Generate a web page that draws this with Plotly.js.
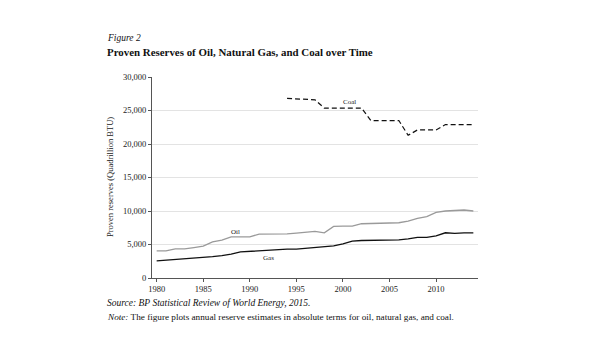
<!DOCTYPE html>
<html>
<head>
<meta charset="utf-8">
<script src="https://cdn.plot.ly/plotly-3.0.1.min.js"></script>
<style>html,body{margin:0;padding:0;background:#fff;}#chart{width:596px;height:358px;}</style>
</head>
<body>
<div id="chart"></div>
<script>
var years = [1980,1981,1982,1983,1984,1985,1986,1987,1988,1989,1990,1991,1992,1993,1994,1995,1996,1997,1998,1999,2000,2001,2002,2003,2004,2005,2006,2007,2008,2009,2010,2011,2012,2013,2014];
var oil = [4050,4050,4350,4350,4550,4750,5400,5650,6150,6150,6150,6550,6550,6550,6600,6700,6850,6950,6750,7700,7750,7750,8100,8150,8150,8150,8250,8500,8900,9150,9800,10000,10050,10150,10000];
var gas = [2550,2650,2750,2800,2900,3000,3200,3350,3550,3900,4000,4100,4200,4300,4300,4300,4450,4550,4700,4800,5100,5500,5600,5600,5650,5650,5700,5850,6050,6050,6300,6750,6650,6750,6750];
var coalYears = [1994,1995,1996,1997,1998,1999,2000,2001,2002,2003,2004,2005,2006,2007,2008,2009,2010,2011,2012,2013,2014];
var coal = [26800,26700,26700,26600,25350,25350,25350,25350,25350,23500,23500,23500,23500,21300,22100,22100,22100,22900,22900,22900,22900];
var yTicks = [0,5000,10000,15000,20000,25000,30000];
var yTickText = ["0","5,000","10,000","15,000","20,000","25,000","30,000"];
var xTicks = [1980,1985,1990,1995,2000,2005,2010];

var W = 596, H = 358, L = 152, R = 118, T = 77, B = 80;
function px(x){ return (x - L) / (W - L - R); }
function py(y){ return (H - B - y) / (H - T - B); }
var serif = "Liberation Serif, Times New Roman, serif";

var traces = [
  {x: years, y: oil, type: 'scatter', mode: 'lines', line: {color: '#9a9a9a', width: 1.3}, hoverinfo: 'skip'},
  {x: years, y: gas, type: 'scatter', mode: 'lines', line: {color: '#111', width: 1.3}, hoverinfo: 'skip'},
  {x: coalYears, y: coal, type: 'scatter', mode: 'lines', line: {color: '#111', width: 1.2, dash: '5px,3px'}, hoverinfo: 'skip'}
];

var layout = {
  width: W, height: H,
  margin: {l: L, r: R, t: T, b: B},
  paper_bgcolor: '#fff', plot_bgcolor: '#fff',
  showlegend: false,
  font: {family: serif, color: '#222', size: 8},
  xaxis: {range: [1979.5, 2014.5], tickvals: xTicks, ticks: 'outside', ticklen: 3, tickcolor: '#555',
          showgrid: false, zeroline: false, showline: true, linecolor: '#555', linewidth: 1,
          tickfont: {family: serif, size: 8.5, color: '#222'}},
  yaxis: {range: [0, 30000], tickvals: yTicks, ticktext: yTickText, ticks: 'outside', ticklen: 3, tickcolor: '#555',
          showgrid: true, gridcolor: '#e3e3e3', gridwidth: 1, zeroline: false, showline: true, linecolor: '#555', linewidth: 1,
          tickfont: {family: serif, size: 8.5, color: '#222'}},
  annotations: [
    {xref: 'paper', yref: 'paper', x: px(105), y: py(38), xanchor: 'left', yanchor: 'middle', showarrow: false,
     text: '<i>Figure 2</i>', font: {family: serif, size: 9.5, color: '#111'}},
    {xref: 'paper', yref: 'paper', x: px(105), y: py(52), xanchor: 'left', yanchor: 'middle', showarrow: false,
     text: '<b>Proven Reserves of Oil, Natural Gas, and Coal over Time</b>', font: {family: serif, size: 10.9, color: '#111'}},
    {xref: 'paper', yref: 'paper', x: px(110), y: py(177), xanchor: 'center', yanchor: 'middle', showarrow: false, textangle: -90,
     text: 'Proven reserves (Quadrillion BTU)', font: {family: serif, size: 8.5, color: '#222'}},
    {xref: 'x', yref: 'y', x: 2000.7, y: 26300, showarrow: false, text: 'Coal', font: {family: serif, size: 7, color: '#222'}},
    {xref: 'x', yref: 'y', x: 1988.5, y: 6900, showarrow: false, text: 'Oil', font: {family: serif, size: 7, color: '#222'}},
    {xref: 'x', yref: 'y', x: 1992.0, y: 3000, showarrow: false, text: 'Gas', font: {family: serif, size: 7, color: '#222'}},
    {xref: 'paper', yref: 'paper', x: px(105), y: py(303), xanchor: 'left', yanchor: 'middle', showarrow: false,
     text: '<i>Source: BP Statistical Review of World Energy, 2015.</i>', font: {family: serif, size: 9.5, color: '#111'}},
    {xref: 'paper', yref: 'paper', x: px(105), y: py(317), xanchor: 'left', yanchor: 'middle', showarrow: false,
     text: '<i>Note:</i> The figure plots annual reserve estimates in absolute terms for oil, natural gas, and coal.', font: {family: serif, size: 9.2, color: '#111'}}
  ]
};
Plotly.newPlot('chart', traces, layout, {staticPlot: true, displayModeBar: false});
</script>
</body>
</html>
